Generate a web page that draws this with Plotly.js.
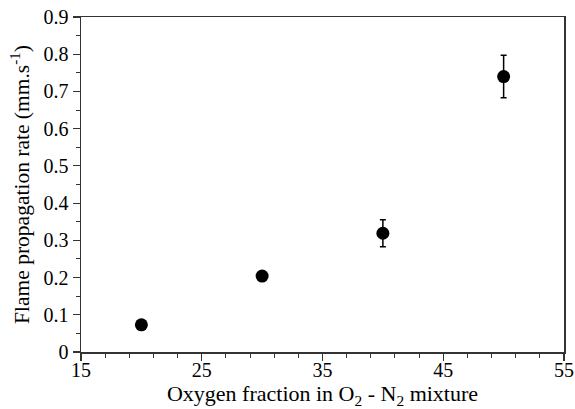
<!DOCTYPE html>
<html>
<head>
<meta charset="utf-8">
<script src="https://cdn.plot.ly/plotly-3.0.1.min.js"></script>
<style>html,body{margin:0;padding:0;background:#fff;}#chart{width:575px;height:409px;}</style>
</head>
<body>
<div id="chart"></div>
<script>
const oxygenFraction = [20, 30, 40, 50];
const propagationRate = [0.073, 0.204, 0.319, 0.740];
const rateError = [0, 0, 0.036, 0.057];

const trace = {
  x: oxygenFraction,
  y: propagationRate,
  type: 'scatter',
  mode: 'markers',
  marker: {color: '#000', size: 13},
  error_y: {type: 'data', array: rateError, visible: true, color: '#000', thickness: 1.5, width: 3},
  hoverinfo: 'x+y'
};

const fam = 'Liberation Serif, Times New Roman, serif';

const layout = {
  width: 575, height: 409,
  margin: {l: 81, r: 11, t: 17, b: 57},
  paper_bgcolor: '#fff', plot_bgcolor: '#fff',
  showlegend: false,
  font: {family: fam, color: '#000', size: 20},
  xaxis: {
    range: [15, 55], tick0: 15, dtick: 10,
    showgrid: false, zeroline: false,
    showline: true, mirror: true, linecolor: '#333', linewidth: 1.5,
    ticks: 'outside', ticklen: 7, tickwidth: 1.2, tickcolor: '#333',
    ticklabelstandoff: -8,
    minor: {dtick: 2, tick0: 15, ticks: 'outside', ticklen: 4, tickwidth: 1, tickcolor: '#333', showgrid: false},
    tickfont: {family: fam, size: 20, color: '#000'},
    title: {text: 'Oxygen fraction in O<sub>2</sub> - N<sub>2</sub> mixture', font: {family: fam, size: 22, color: '#000'}, standoff: 8}
  },
  yaxis: {
    range: [0, 0.9], dtick: 0.1,
    showgrid: false, zeroline: false,
    showline: true, mirror: true, linecolor: '#333', linewidth: 1.5,
    ticks: 'outside', ticklen: 7, tickwidth: 1.2, tickcolor: '#333',
    minor: {dtick: 0.05, ticks: 'outside', ticklen: 4, tickwidth: 1, tickcolor: '#333', showgrid: false},
    tickfont: {family: fam, size: 20, color: '#000'},
    title: {text: 'Flame propagation rate (mm.s<sup>-1</sup>)', font: {family: fam, size: 21.5, color: '#000'}, standoff: 8}
  }
};

Plotly.newPlot('chart', [trace], layout, {displayModeBar: false, staticPlot: true});
</script>
</body>
</html>
